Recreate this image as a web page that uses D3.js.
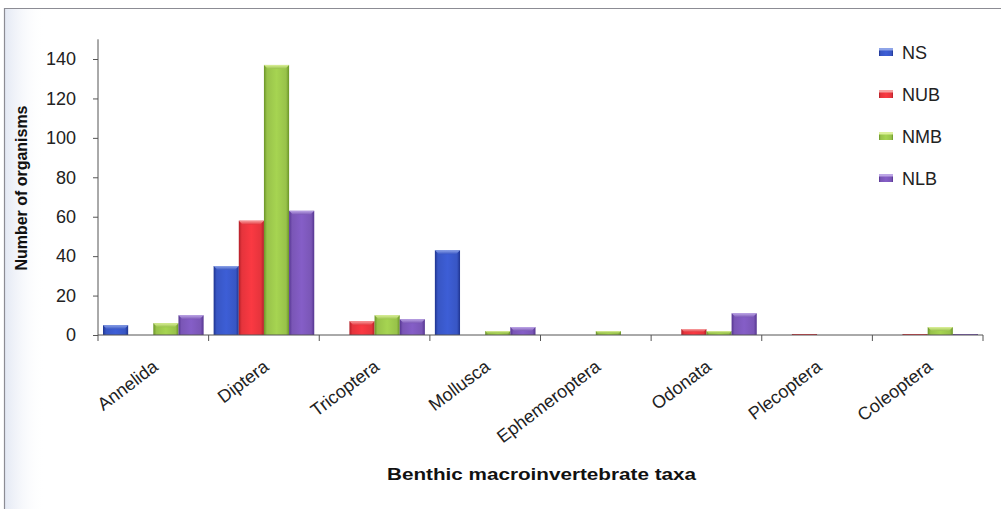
<!DOCTYPE html>
<html>
<head>
<meta charset="utf-8">
<script src="https://cdn.jsdelivr.net/npm/d3@7"></script>
<style>
  html, body { margin: 0; padding: 0; background: #ffffff; }
  svg { display: block; font-family: "Liberation Sans", Arial, sans-serif; }
</style>
</head>
<body>
<svg id="chart" width="1001" height="509"></svg>
<script>
// Taxa on the category axis
const categories = ["Annelida", "Diptera", "Tricoptera", "Mollusca",
                    "Ephemeroptera", "Odonata", "Plecoptera", "Coleoptera"];

// Counts per sampling site, one array per series
const seriesNames = ["NS", "NUB", "NMB", "NLB"];
const valuesNS  = [5, 35, 0, 43, 0, 0, 0, 0];
const valuesNUB = [0, 58, 7, 0, 0, 3, 0.5, 0.5];
const valuesNMB = [6, 137, 10, 2, 2, 2, 0, 4];
const valuesNLB = [10, 63, 8, 4, 0, 11, 0, 0.5];

const yTicks = [0, 20, 40, 60, 80, 100, 120, 140];

const yTitle = "Number of organisms";
const xTitle = "Benthic macroinvertebrate taxa";

const palette = {
  NS:  { base: "#3856c4", dark: "#1f348f", light: "#8ea4e8" },
  NUB: { base: "#e5343c", dark: "#b21f28", light: "#f7a0a0" },
  NMB: { base: "#98c24a", dark: "#6a9428", light: "#dcf09a" },
  NLB: { base: "#7a56b6", dark: "#553590", light: "#bda6e6" }
};

const seriesValues = { NS: valuesNS, NUB: valuesNUB, NMB: valuesNMB, NLB: valuesNLB };

const svg = d3.select("#chart");

// Outer frame and soft tint along the left edge
const defs = svg.append("defs");
const tint = defs.append("linearGradient").attr("id", "leftTint")
  .attr("x1", "0").attr("x2", "1").attr("y1", "0").attr("y2", "0");
tint.append("stop").attr("offset", "0").attr("stop-color", "#e4e9f4");
tint.append("stop").attr("offset", "1").attr("stop-color", "#ffffff").attr("stop-opacity", 0);
svg.append("rect").attr("x", 5).attr("y", 9).attr("width", 40).attr("height", 500)
  .attr("fill", "url(#leftTint)");
svg.append("path").attr("d", "M4.5,509 V8.5 H1001")
  .attr("fill", "none").attr("stroke", "#8c8c94").attr("stroke-width", 1.2);

// Scales
const x0 = d3.scaleBand().domain(categories).range([98, 983]).padding(0);
const x1 = d3.scaleBand().domain(seriesNames).range([5, x0.bandwidth() - 5]).padding(0);
const y = d3.scaleLinear().domain([0, 150]).range([335, 39.3]);

// Gradients giving each bar its bevelled look
seriesNames.forEach(s => {
  const c = palette[s];
  const g = defs.append("linearGradient").attr("id", "grad-" + s)
    .attr("x1", "0").attr("x2", "1").attr("y1", "0").attr("y2", "0");
  g.append("stop").attr("offset", "0").attr("stop-color", c.dark);
  g.append("stop").attr("offset", "0.12").attr("stop-color", c.base);
  g.append("stop").attr("offset", "0.5").attr("stop-color", d3.color(c.base).brighter(0.25));
  g.append("stop").attr("offset", "0.88").attr("stop-color", c.base);
  g.append("stop").attr("offset", "1").attr("stop-color", c.dark);
  const cap = defs.append("linearGradient").attr("id", "cap-" + s)
    .attr("x1", "0").attr("x2", "0").attr("y1", "0").attr("y2", "1");
  cap.append("stop").attr("offset", "0").attr("stop-color", c.light);
  cap.append("stop").attr("offset", "1").attr("stop-color", c.base);
});

// Bars
const barData = [];
categories.forEach((cat, i) => {
  seriesNames.forEach(s => {
    const v = seriesValues[s][i];
    if (v > 0) barData.push({ cat, s, v });
  });
});

const bars = svg.append("g").selectAll("g").data(barData).join("g");
bars.append("rect")
  .attr("x", d => x0(d.cat) + x1(d.s))
  .attr("y", d => y(d.v))
  .attr("width", x1.bandwidth())
  .attr("height", d => y(0) - y(d.v))
  .attr("fill", d => "url(#grad-" + d.s + ")");
bars.append("path")
  .attr("d", d => {
    const xl = x0(d.cat) + x1(d.s), xr = xl + x1.bandwidth();
    const top = y(d.v), h = Math.min(4, (y(0) - y(d.v)) / 2);
    const inset = Math.min(4, h);
    return `M${xl},${top} H${xr} L${xr - inset},${top + h} H${xl + inset} Z`;
  })
  .attr("fill", d => "url(#cap-" + d.s + ")");

// Y axis
const yAxis = svg.append("g").attr("transform", "translate(98,0)")
  .call(d3.axisLeft(y).tickValues(yTicks).tickSize(5).tickPadding(17).tickSizeOuter(0));
yAxis.select(".domain").attr("stroke", "#555").attr("d", `M0,${y(0)}V${y(150)}`);
yAxis.selectAll(".tick line").attr("stroke", "#555");
yAxis.selectAll(".tick text")
  .attr("font-size", 18).attr("fill", "#222")
  .attr("font-family", "Liberation Sans, Arial, sans-serif");

// X axis with ticks between categories
const xAxisG = svg.append("g").attr("transform", `translate(0,${y(0)})`);
xAxisG.append("line").attr("x1", 98).attr("x2", 983).attr("stroke", "#555");
const boundaries = categories.map(c => x0(c)).concat([x0.range()[1]]);
xAxisG.selectAll("line.tk").data(boundaries).join("line").attr("class", "tk")
  .attr("x1", d => d).attr("x2", d => d).attr("y1", 0).attr("y2", 6)
  .attr("stroke", "#555");

// Rotated category labels
svg.append("g").selectAll("text").data(categories).join("text")
  .attr("transform", d => `translate(${x0(d) + x0.bandwidth() / 2 + 6},369) rotate(-37)`)
  .attr("text-anchor", "end")
  .attr("font-size", 18)
  .attr("fill", "#222")
  .text(d => d);

// Axis titles
svg.append("text")
  .attr("transform", "translate(27,188) rotate(-90)")
  .attr("text-anchor", "middle")
  .attr("font-size", 16).attr("font-weight", "bold").attr("fill", "#111")
  .attr("textLength", 165).attr("lengthAdjust", "spacingAndGlyphs")
  .text(yTitle);

svg.append("text")
  .attr("x", 387).attr("y", 480)
  .attr("font-size", 16).attr("font-weight", "bold").attr("fill", "#111")
  .attr("textLength", 309).attr("lengthAdjust", "spacingAndGlyphs")
  .text(xTitle);

// Legend
const legend = svg.append("g").selectAll("g").data(seriesNames).join("g")
  .attr("transform", (d, i) => `translate(879,${52 + i * 42})`);
legend.append("rect").attr("x", 0).attr("y", -4).attr("width", 14).attr("height", 8)
  .attr("fill", d => "url(#grad-" + d + ")");
legend.append("rect").attr("x", 0).attr("y", -4).attr("width", 14).attr("height", 2.5)
  .attr("fill", d => palette[d].light);
legend.append("text").attr("x", 23).attr("y", 6.5)
  .attr("font-size", 18).attr("fill", "#222")
  .text(d => d);
</script>
</body>
</html>
